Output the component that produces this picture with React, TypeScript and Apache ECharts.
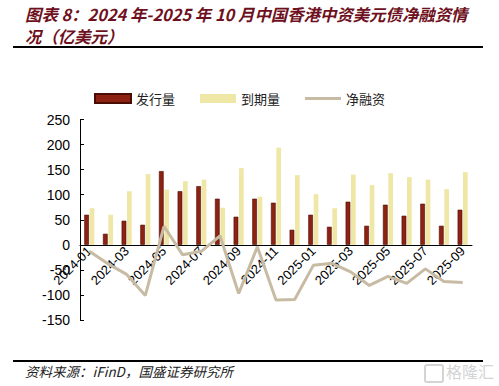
import React, { useEffect, useRef } from "react";
import * as echarts from "echarts";

const categories = [
  "2024-01", "2024-02", "2024-03", "2024-04", "2024-05", "2024-06", "2024-07",
  "2024-08", "2024-09", "2024-10", "2024-11", "2024-12", "2025-01", "2025-02",
  "2025-03", "2025-04", "2025-05", "2025-06", "2025-07", "2025-08", "2025-09",
];
const issuance = [60, 22, 48, 40, 147, 107, 117, 92, 56, 92, 84, 30, 60, 36, 86, 38, 80, 58, 82, 38, 70];
const maturity = [73, 60, 107, 141, 110, 127, 130, 74, 153, 96, 194, 139, 101, 73, 140, 119, 143, 135, 130, 111, 145];
const netFinancing = [-13, -38, -59, -101, 37, -20, -13, 18, -97, -4, -110, -109, -41, -37, -54, -81, -63, -77, -48, -73, -75];

const seriesNames = ["发行量", "到期量", "净融资"];
const titleLine1 = "图表 8：2024 年-2025 年 10 月中国香港中资美元债净融资情";
const titleLine2 = "况（亿美元）";
const sourceText = "资料来源：iFinD，国盛证券研究所";

const Y_MIN = -150;
const Y_MAX = 250;
const GRID_TOP = 119.5;
const GRID_BOTTOM = 66;
const CHART_H = 386;

export default function App() {
  const ref = useRef<HTMLDivElement>(null);
  useEffect(() => {
    if (!ref.current) return;
    const chart = echarts.init(ref.current, null, { renderer: "svg" });
    const gridH = CHART_H - GRID_TOP - GRID_BOTTOM;
    // distance from grid bottom up to the zero line
    const zeroOffset = (-Y_MIN / (Y_MAX - Y_MIN)) * gridH;
    const lineIcon =
      "path://M0,0L0.01,0L0.01,0.01Z M0,3.3L40,3.3L40,6.7L0,6.7Z M0,10L0.01,10L0.01,9.99Z";
    const titleStyle = {
      fontFamily: "Noto Sans CJK SC",
      fontSize: 16.4,
      lineHeight: 18,
      fontWeight: "bold",
      fontStyle: "italic",
      fill: "#6E1020",
    };
    chart.setOption({
      animation: false,
      backgroundColor: "#ffffff",
      grid: { left: 80, right: 27, top: GRID_TOP, bottom: GRID_BOTTOM, containLabel: false },
      legend: {
        top: 87,
        left: 89,
        itemWidth: 36,
        itemHeight: 9,
        itemGap: 25,
        textStyle: { fontFamily: "Noto Sans CJK SC", fontSize: 13, color: "#222" },
        data: [
          { name: seriesNames[0], icon: "rect" },
          { name: seriesNames[1], icon: "rect" },
          { name: seriesNames[2], icon: lineIcon },
        ],
      },
      xAxis: {
        type: "category",
        data: categories,
        offset: -zeroOffset,
        axisLine: { onZero: false, lineStyle: { color: "#000", width: 1 } },
        axisTick: { show: false },
        axisLabel: {
          interval: 1,
          rotate: 45,
          margin: 4,
          fontFamily: "Liberation Sans",
          fontSize: 13,
          color: "#000",
        },
        splitLine: { show: false },
      },
      yAxis: {
        type: "value",
        min: Y_MIN,
        max: Y_MAX,
        interval: 50,
        axisLine: { show: true, lineStyle: { color: "#000", width: 1 } },
        axisTick: { show: true, inside: true, length: 4, lineStyle: { color: "#000" } },
        axisLabel: { margin: 10, fontFamily: "Liberation Sans", fontSize: 14, color: "#000" },
        splitLine: { show: false },
      },
      series: [
        {
          name: seriesNames[0],
          type: "bar",
          data: issuance,
          barWidth: 4.7,
          barGap: "15%",
          itemStyle: { color: "#8E2212", borderColor: "#4A0D06", borderWidth: 0.6 },
        },
        {
          name: seriesNames[1],
          type: "bar",
          data: maturity,
          barWidth: 4.7,
          itemStyle: { color: "#EFE7A6" },
        },
        {
          name: seriesNames[2],
          type: "line",
          data: netFinancing,
          symbol: "none",
          showSymbol: false,
          lineStyle: { color: "#C8BBA4", width: 3 },
          itemStyle: { color: "#C8BBA4" },
          z: 5,
        },
      ],
      graphic: [
        { type: "text", left: 25, top: 5, style: { text: titleLine1, ...titleStyle } },
        { type: "text", left: 25, top: 27, style: { text: titleLine2, ...titleStyle } },
        {
          type: "line",
          shape: { x1: 13, y1: 47, x2: 483, y2: 47 },
          style: { stroke: "#000", lineWidth: 2 },
        },
        {
          type: "line",
          shape: { x1: 13, y1: 361, x2: 483, y2: 361 },
          style: { stroke: "#000", lineWidth: 2 },
        },
        {
          type: "text",
          left: 25,
          top: 364,
          style: {
            text: sourceText,
            fontFamily: "Noto Sans CJK SC",
            fontSize: 13.5,
            fontStyle: "italic",
            fill: "#222",
          },
        },
        {
          type: "rect",
          shape: { x: 425, y: 365, width: 18, height: 17, r: 2 },
          style: { fill: "none", stroke: "#d4d4d4", lineWidth: 2 },
        },
        {
          type: "text",
          left: 446,
          top: 363,
          style: {
            text: "格隆汇",
            fontFamily: "Noto Sans CJK SC",
            fontSize: 16,
            fill: "#d4d4d4",
          },
        },
      ],
    });
    return () => chart.dispose();
  }, []);
  return <div ref={ref} style={{ width: 499, height: 386, position: "absolute", left: 0, top: 0 }} />;
}
